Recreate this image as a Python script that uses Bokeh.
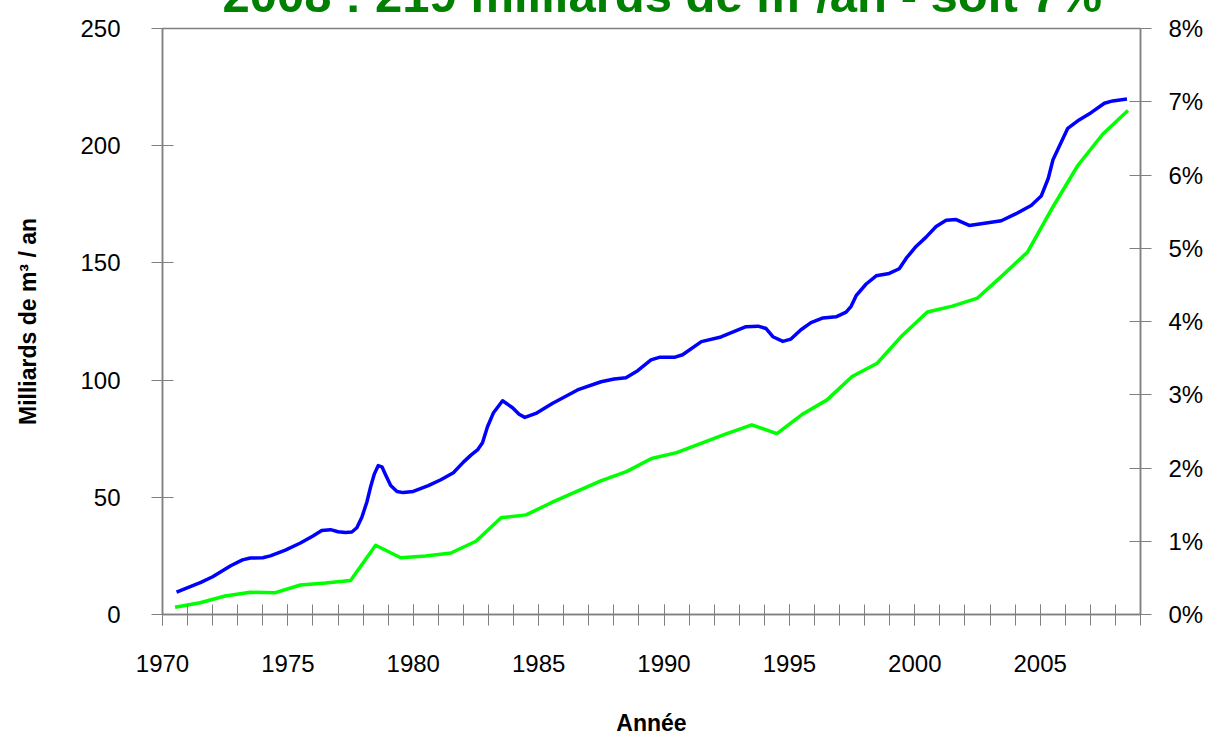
from bokeh.plotting import figure
from bokeh.models import Range1d, LinearAxis, FixedTicker
from bokeh.embed import file_html
from bokeh.resources import INLINE

# ---------------- data ----------------
blue_years = [1970.56, 1971.53, 1972.0, 1972.72, 1973.19, 1973.5, 1974.0, 1974.3, 1974.9, 1975.5,
              1976.0, 1976.35, 1976.7, 1977.0, 1977.3, 1977.55, 1977.75, 1977.95, 1978.15, 1978.3,
              1978.45, 1978.6, 1978.75, 1978.9, 1979.1, 1979.35, 1979.6, 1980.0, 1980.6, 1981.1,
              1981.6, 1982.0, 1982.3, 1982.56, 1982.76, 1982.96, 1983.2, 1983.56, 1983.96, 1984.22,
              1984.45, 1984.89, 1985.56, 1986.55, 1987.49, 1988.01, 1988.48, 1988.95, 1989.48, 1989.81,
              1990.41, 1990.74, 1991.49, 1992.27, 1993.27, 1993.75, 1994.07, 1994.34, 1994.74, 1995.06,
              1995.46, 1995.86, 1996.34, 1996.86, 1997.26, 1997.46, 1997.66, 1998.06, 1998.46, 1998.98,
              1999.38, 1999.66, 2000.05, 2000.45, 2000.85, 2001.25, 2001.65, 2002.17, 2002.85, 2003.45,
              2004.04, 2004.64, 2005.04, 2005.32, 2005.51, 2006.1, 2006.55, 2007.03, 2007.56, 2007.89,
              2008.46]
blue_values = [9.5, 13.7, 16.1, 20.8, 23.3, 24.1, 24.2, 25.0, 27.5, 30.5,
               33.5, 35.8, 36.2, 35.3, 35.0, 35.2, 37.0, 41.5, 48.0, 54.5,
               60.0, 63.5, 63.0, 59.5, 55.0, 52.5, 52.0, 52.5, 55.0, 57.5,
               60.5, 65.0, 68.0, 70.2, 73.3, 80.1, 86.1, 91.2, 88.2, 85.4,
               84.1, 85.8, 90.1, 95.8, 99.3, 100.5, 101.0, 104.0, 108.6, 109.7,
               109.7, 110.8, 116.4, 118.4, 122.8, 123.0, 122.0, 118.5, 116.5, 117.5,
               121.5, 124.5, 126.5, 127.0, 129.0, 131.5, 136.0, 141.0, 144.5, 145.5,
               147.5, 152.0, 157.0, 161.0, 165.5, 168.2, 168.5, 166.0, 167.0, 168.0,
               171.0, 174.5, 178.5, 186.0, 194.0, 207.4, 211.0, 214.1, 218.1, 219.1,
               219.9]

green_years = [1970.5 + i for i in range(39)]
green_pct = [0.098, 0.161, 0.253, 0.303, 0.298, 0.403, 0.43, 0.465, 0.945, 0.775,
             0.80, 0.84, 1.0, 1.32, 1.36, 1.526, 1.677, 1.827, 1.95, 2.13,
             2.21, 2.34, 2.47, 2.59, 2.47, 2.73, 2.93, 3.25, 3.43, 3.81,
             4.13, 4.21, 4.32, 4.63, 4.95, 5.56, 6.13, 6.56, 6.88]

x_major = [1970, 1975, 1980, 1985, 1990, 1995, 2000, 2005]
x_minor = list(range(1970, 2010))
left_ticks = [0, 50, 100, 150, 200, 250]
right_ticks = [0, 1, 2, 3, 4, 5, 6, 7, 8]

title_text = "2008 : 219 milliards de m\u00b3/an - soit 7%"
y_label = "Milliards de m\u00b3 / an"
x_label = "Ann\u00e9e"

FONT = "Liberation Sans"
GRAY = "#808080"
W, H = 1210, 743
LEFT, TOP, FW, FH = 162, 28, 978, 586
SHIFT = 52                      # canvas is moved up so the title is cut at the page top
TOP_C = TOP + SHIFT             # frame top inside the canvas
HC = H + SHIFT

# ---------------- figure ----------------
p = figure(width=W, height=HC,
           x_range=Range1d(1970, 2009), y_range=Range1d(0, 250),
           output_backend="svg", toolbar_location=None,
           min_border_left=LEFT, min_border_right=W - LEFT - FW,
           min_border_top=TOP_C, min_border_bottom=HC - TOP_C - FH)
p.styles = {"margin-top": f"-{SHIFT}px"}
p.extra_y_ranges = {"pct": Range1d(0, 8)}
p.xgrid.visible = False
p.ygrid.visible = False
p.outline_line_color = GRAY
p.outline_line_width = 1.5
p.background_fill_color = "white"
p.border_fill_color = "white"

# title: bold green, only its lower part shows, as in the original
p.title.text = title_text
p.title.text_font = FONT
p.title.text_font_style = "bold"
p.title.text_font_size = "49px"
p.title.text_color = "#008000"
p.title.align = "left"
p.title.offset = 222 - LEFT
p.title.standoff = 14

def style_axis(ax, tin, tout):
    ax.axis_line_color = GRAY
    ax.axis_line_width = 1.5
    ax.major_tick_line_color = GRAY
    ax.minor_tick_line_color = GRAY
    ax.major_tick_in = tin
    ax.major_tick_out = tout
    ax.minor_tick_in = tin
    ax.minor_tick_out = tout
    ax.major_label_text_font = FONT
    ax.major_label_text_font_size = "24px"
    ax.major_label_text_color = "black"
    ax.axis_label_text_font = FONT
    ax.axis_label_text_font_style = "bold"
    ax.axis_label_text_font_size = "23px"
    ax.axis_label_text_color = "black"

# bottom axis
xa = p.xaxis[0]
xa.ticker = FixedTicker(ticks=x_major, minor_ticks=x_minor)
style_axis(xa, 10, 11)
xa.major_label_standoff = 29
xa.axis_label = x_label
xa.axis_label_standoff = 35

# left axis
ya = p.yaxis[0]
ya.ticker = FixedTicker(ticks=left_ticks)
style_axis(ya, 11, 11)
ya.minor_tick_in = 0
ya.minor_tick_out = 0
ya.major_label_standoff = 31
ya.axis_label = y_label
ya.axis_label_standoff = 36

# right axis
ra = LinearAxis(y_range_name="pct", ticker=FixedTicker(ticks=right_ticks))
style_axis(ra, 11, 11)
ra.minor_tick_in = 0
ra.minor_tick_out = 0
ra.major_label_standoff = 17
ra.major_label_overrides = {t: f"{t}%" for t in right_ticks}
p.add_layout(ra, "right")

# lines
p.line(blue_years, blue_values, line_color="#0000ff", line_width=3.5, line_join="round")
p.line(green_years, green_pct, y_range_name="pct", line_color="#00ff00", line_width=3.5,
       line_join="round")

open("out.html", "w").write(file_html(p, INLINE))
